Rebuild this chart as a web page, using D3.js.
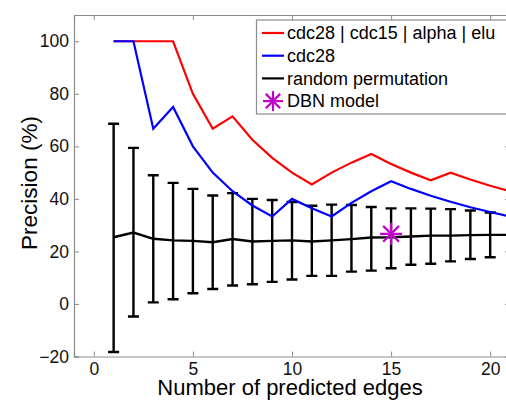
<!DOCTYPE html>
<html><head><meta charset="utf-8">
<script src="https://cdn.jsdelivr.net/npm/d3@7"></script>
<style>body{margin:0;background:#fff}svg{display:block}</style>
</head><body><div id="c"></div>
<script>
const edges = [1,2,3,4,5,6,7,8,9,10,11,12,13,14,15,16,17,18,19,20,21];
const allSeries = [100,100,100,100,80,66.7,71.4,62.5,55.6,50,45.5,50,53.8,57.1,53.3,50,47.1,50,47.4,45,42.9];
const cdc28 = [100,100,66.7,75,60,50,42.9,37.5,33.3,40,36.4,33.3,38.5,42.9,46.7,43.8,41.2,38.9,36.8,35,33.3];
const randMean = [25.4,27.2,24.8,24.2,24,23.5,24.7,23.8,24,24.2,23.8,24.2,24.7,25.3,25.4,25.7,26,26,26.2,26.3,26.3];
const errEdges = [1,2,3,4,5,6,7,8,9,10,11,12,13,14,15,16,17,18,19,20];
const errTop = [68.6,59.4,49,46.1,43.8,41.3,42.2,40,39.6,38.8,37.4,37.8,37.7,36.9,36.4,36.4,36.3,36.1,35.6,34.8];
const errBottom = [-18.3,-4.8,0.6,1.8,4.1,5.7,7,7.5,8.4,9.3,10.7,10.7,12.3,12.7,13.6,14.9,15.3,16.2,17.1,17.8];
const dbnX = [15];
const dbnY = [26.7];
const xTicks = [0,5,10,15,20];
const yTicks = [-20,0,20,40,60,80,100];
const legendLabels = ["cdc28 | cdc15 | alpha | elu","cdc28","random permutation","DBN model"];

const W=506,H=400;
const L=74,T=15,R=510,B=356.5;
const svg=d3.select("#c").append("svg").attr("width",W).attr("height",H)
  .style("font-family","'Liberation Sans',Arial,sans-serif");
const x=d3.scaleLinear().domain([-1,21]).range([L,R]);
const y=d3.scaleLinear().domain([-20,110]).range([B,T]);
const axisCol="#8c8c8c";

svg.append("defs").append("clipPath").attr("id","clip").append("rect")
  .attr("x",L).attr("y",T).attr("width",R-L).attr("height",B-T);

// axes
const tl=5;
const gx=svg.append("g").attr("transform",`translate(0,${B})`)
  .call(d3.axisBottom(x).tickValues(xTicks).tickSize(-tl).tickPadding(6.5).tickFormat(d3.format("d")));
const gxt=svg.append("g").attr("transform",`translate(0,${T})`)
  .call(d3.axisTop(x).tickValues(xTicks).tickSize(-tl).tickFormat(""));
const gy=svg.append("g").attr("transform",`translate(${L},0)`)
  .call(d3.axisLeft(y).tickValues(yTicks).tickSize(-tl).tickPadding(5).tickFormat(d3.format("d")));
const gyr=svg.append("g").attr("transform",`translate(${R},0)`)
  .call(d3.axisRight(y).tickValues(yTicks).tickSize(-tl).tickFormat(""));
[gx,gxt,gy,gyr].forEach(g=>{
  g.select(".domain").attr("stroke",axisCol).attr("stroke-width",1.2);
  g.selectAll(".tick line").attr("stroke",axisCol);
  g.selectAll(".tick text").attr("fill","#111").style("font-size","17.5px").style("font-family","'Liberation Sans',Arial,sans-serif");
});
gx.selectAll(".tick text").attr("dy","0.71em");

const plot=svg.append("g").attr("clip-path","url(#clip)");
const line=d3.line().x(d=>x(d[0])).y(d=>y(d[1]));

// error bars
const cap=5.5;
errEdges.forEach((e,i)=>{
  const g=plot.append("g").attr("stroke","#000").attr("stroke-width",2.4);
  g.append("line").attr("x1",x(e)).attr("x2",x(e)).attr("y1",y(errTop[i])).attr("y2",y(errBottom[i]));
  g.append("line").attr("x1",x(e)-cap).attr("x2",x(e)+cap).attr("y1",y(errTop[i])).attr("y2",y(errTop[i]));
  g.append("line").attr("x1",x(e)-cap).attr("x2",x(e)+cap).attr("y1",y(errBottom[i])).attr("y2",y(errBottom[i]));
});
plot.append("path").datum(edges.map((e,i)=>[e,randMean[i]])).attr("d",line)
  .attr("fill","none").attr("stroke","#000").attr("stroke-width",2.4);
plot.append("path").datum(edges.map((e,i)=>[e,allSeries[i]])).attr("d",line)
  .attr("fill","none").attr("stroke","#ff0000").attr("stroke-width",2.2);
plot.append("path").datum(edges.map((e,i)=>[e,cdc28[i]])).attr("d",line)
  .attr("fill","none").attr("stroke","#0000ff").attr("stroke-width",2.2);

const starCol="#c000cc";
function star(g,cx,cy,r){
  const s=g.append("g").attr("stroke",starCol).attr("stroke-width",2.2);
  s.append("line").attr("x1",cx-r).attr("x2",cx+r).attr("y1",cy).attr("y2",cy);
  s.append("line").attr("x1",cx).attr("x2",cx).attr("y1",cy-r).attr("y2",cy+r);
  const d=r*0.72;
  s.append("line").attr("x1",cx-d).attr("x2",cx+d).attr("y1",cy-d).attr("y2",cy+d);
  s.append("line").attr("x1",cx-d).attr("x2",cx+d).attr("y1",cy+d).attr("y2",cy-d);
}
dbnX.forEach((d,i)=>star(plot,x(d),y(dbnY[i]),11));

// legend
const lg=svg.append("g");
lg.append("rect").attr("x",256.5).attr("y",20).attr("width",270).attr("height",94)
  .attr("fill","#fff").attr("stroke",axisCol).attr("stroke-width",1.2);
const cols=["#ff0000","#0000ff","#000"];
legendLabels.forEach((t,i)=>{
  const cy=33+i*22.7;
  if(i<3){
    lg.append("line").attr("x1",262).attr("x2",284).attr("y1",cy).attr("y2",cy)
      .attr("stroke",cols[i]).attr("stroke-width",2.2);
  } else {
    star(lg,273,cy,10);
  }
  lg.append("text").attr("x",287).attr("y",cy).attr("dy","0.35em")
    .style("font-size","18px").attr("fill","#000").text(t);
});

// axis labels
svg.append("text").attr("x",290).attr("y",395).attr("text-anchor","middle")
  .style("font-size","22px").attr("fill","#000").text("Number of predicted edges");
svg.append("text").attr("transform","translate(37,183) rotate(-90)").attr("text-anchor","middle")
  .style("font-size","22.5px").attr("fill","#000").text("Precision (%)");
</script></body></html>
